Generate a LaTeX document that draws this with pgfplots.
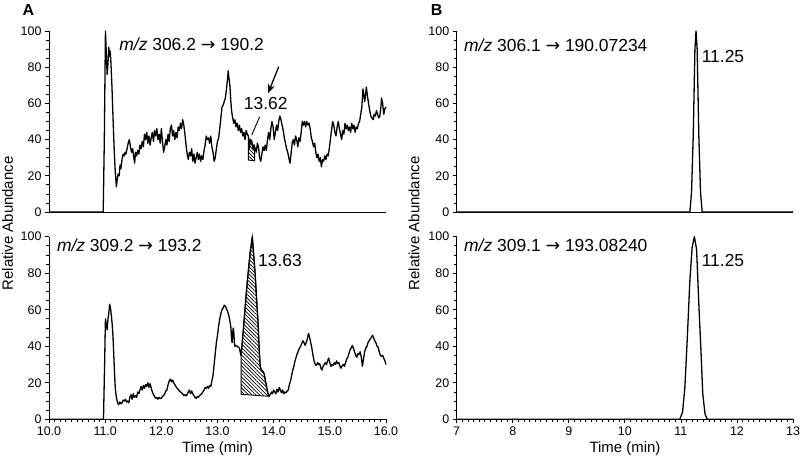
\documentclass[border=0pt]{standalone}
\usepackage{fontspec}
\setmainfont{Liberation Sans}
\newfontfamily\arrowfont{DejaVu Sans}
\usepackage{pgfplots}
\pgfplotsset{compat=1.18}
\usetikzlibrary{patterns.meta,arrows.meta}

\newcommand{\tfont}{\fontsize{12.5}{14}\selectfont}
\pgfplotsset{
  chrom/.style={
    scale only axis,
    ymin=0, ymax=100, ytick={0,20,...,100}, minor y tick num=3,
    axis x line*=bottom, axis y line*=left,
    axis line style={line width=1bp},
    tick style={line width=0.8bp, black},
    tick align=outside,
    major tick length=4bp, minor tick length=2.5bp,
    yticklabel={\tfont\pgfmathprintnumber[assume math mode=true]{\tick}},
    xticklabel={\tfont\pgfmathprintnumber[assume math mode=true]{\tick}},
    clip=false,
  },
  trace/.style={black, line width=1.3bp, line join=round},
  hatch/.style={draw=black, line width=0.9bp,
    pattern={Lines[angle=-45, distance=2.6bp, line width=0.7bp]}},
}
\newcommand{\annfont}{\fontsize{17.5}{20}\selectfont}
\newcommand{\arr}{{\arrowfont →}}

\begin{document}
\begin{tikzpicture}
\useasboundingbox (0,0) rectangle (800bp,-459bp);

% ---------- A, top: m/z 306.2 -> 190.2
\begin{axis}[chrom, at={(49bp,-212bp)}, anchor=south west,
    width=337bp, height=181bp, xmin=10, xmax=16, xtick=\empty]
\addplot[hatch] coordinates {
  (13.55,28.7) (13.55,42) (13.57,36) (13.59,40) (13.61,39) (13.63,35)
  (13.65,37) (13.66,36) (13.66,28.3)} -- cycle;
\addplot[trace] coordinates {
  (10.0,0) (10.965,0) (10.985,40) (11.005,100) (11.02,88) (11.035,76) (11.05,82)
  (11.065,91) (11.075,86) (11.09,89) (11.10,84) (11.12,70) (11.14,52) (11.16,35)
  (11.18,22) (11.20,14) (11.215,18) (11.23,21) (11.25,20) (11.265,26) (11.28,24)
  (11.30,29) (11.32,32) (11.34,31) (11.355,33) (11.37,32) (11.39,35) (11.41,38)
  (11.43,40) (11.45,36) (11.47,33) (11.49,35) (11.51,30) (11.525,27) (11.54,33)
  (11.56,31) (11.58,34) (11.60,32) (11.62,37) (11.64,35) (11.66,39) (11.68,36)
  (11.70,43) (11.72,40) (11.74,44) (11.76,38) (11.78,42) (11.80,37) (11.82,41)
  (11.84,44) (11.86,39) (11.88,45) (11.90,42) (11.92,46) (11.94,40) (11.96,43)
  (11.98,38) (12.00,46) (12.02,39) (12.04,33) (12.06,36) (12.08,40) (12.10,37)
  (12.12,43) (12.14,39) (12.16,46) (12.18,48) (12.20,42) (12.22,45) (12.24,40)
  (12.26,44) (12.28,41) (12.30,47) (12.32,45) (12.34,49) (12.36,46) (12.38,51)
  (12.40,48) (12.42,43) (12.44,37) (12.46,32) (12.48,29) (12.50,33) (12.52,31)
  (12.54,35) (12.56,28) (12.58,32) (12.60,27) (12.62,30) (12.64,33) (12.66,29)
  (12.68,32) (12.70,28) (12.72,31) (12.74,29) (12.76,34) (12.78,37) (12.80,42)
  (12.82,40) (12.84,41) (12.86,38) (12.88,42) (12.90,36) (12.92,33) (12.94,28)
  (12.96,30) (12.98,35) (13.00,39) (13.02,41) (13.04,46) (13.06,52) (13.08,58)
  (13.10,59) (13.12,61) (13.14,63) (13.16,68) (13.18,74) (13.19,78) (13.20,75)
  (13.22,70) (13.24,60) (13.25,56) (13.27,52) (13.29,49) (13.31,51) (13.33,47)
  (13.35,49) (13.37,45) (13.39,48) (13.41,44) (13.43,46) (13.45,42) (13.47,44)
  (13.49,40) (13.51,45) (13.53,43) (13.55,42) (13.57,36) (13.59,40) (13.61,39)
  (13.63,35) (13.65,37) (13.67,35) (13.69,33) (13.71,38) (13.73,36) (13.75,30)
  (13.77,28) (13.79,32) (13.81,36) (13.83,34) (13.85,37) (13.87,34) (13.89,40)
  (13.91,44) (13.93,40) (13.95,46) (13.97,50) (13.99,47) (14.01,40) (14.03,44)
  (14.05,48) (14.07,45) (14.09,50) (14.11,53) (14.13,51) (14.15,48) (14.17,45)
  (14.19,41) (14.21,38) (14.23,35) (14.25,33) (14.27,30) (14.29,27) (14.31,32)
  (14.33,38) (14.35,40) (14.37,37) (14.39,42) (14.41,40) (14.43,36) (14.45,41)
  (14.47,39) (14.49,44) (14.51,50) (14.53,48) (14.55,50) (14.57,47) (14.59,50)
  (14.61,48) (14.63,49) (14.65,46) (14.67,41) (14.69,39) (14.71,36) (14.73,38)
  (14.75,33) (14.77,30) (14.79,32) (14.81,28) (14.83,30) (14.85,25) (14.87,29)
  (14.89,28) (14.91,31) (14.93,29) (14.95,32) (14.97,31) (14.99,35) (15.01,40)
  (15.03,45) (15.05,50) (15.07,48) (15.09,44) (15.11,42) (15.13,47) (15.15,50)
  (15.17,46) (15.19,43) (15.21,40) (15.23,45) (15.25,43) (15.27,49) (15.29,46)
  (15.31,48) (15.33,45) (15.35,47) (15.37,44) (15.39,49) (15.41,46) (15.43,48)
  (15.45,44) (15.47,47) (15.49,46) (15.51,49) (15.53,50) (15.55,54) (15.57,58)
  (15.59,68) (15.61,64) (15.62,61) (15.64,66) (15.65,69) (15.67,64) (15.69,60)
  (15.71,56) (15.73,53) (15.75,52) (15.77,51) (15.79,54) (15.81,53) (15.83,56)
  (15.85,54) (15.87,52) (15.89,53) (15.91,58) (15.92,63) (15.94,60) (15.96,54)
  (15.98,57) (16.00,58)};
\node[anchor=west, inner sep=0, font=\annfont] at (axis cs:11.25,92.5)
  {\textit{m/z} 306.2 \arr\ 190.2};
\node[inner sep=0, font=\annfont] at (axis cs:13.86,60.2) {13.62};
\draw[line width=0.9bp] (axis cs:13.75,52.6) -- (axis cs:13.61,42.5);
\draw[line width=1.3bp, -{Stealth[length=9bp,width=7bp]}]
  (axis cs:14.09,80.3) -- (axis cs:13.90,65.6);
\end{axis}

% ---------- A, bottom: m/z 309.2 -> 193.2
\begin{axis}[chrom, at={(49bp,-419.3bp)}, anchor=south west,
    width=337bp, height=182.6bp, xmin=10, xmax=16,
    xtick={10,11,...,16}, minor x tick num=9,
    xticklabel={\tfont\pgfmathprintnumber[assume math mode=true, fixed, fixed zerofill, precision=1]{\tick}}]
\addplot[hatch] coordinates {
  (13.42,13.7) (13.42,35) (13.46,49) (13.52,72) (13.58,91) (13.62,100)
  (13.645,90) (13.67,80) (13.70,64) (13.72,54) (13.74,40) (13.76,29)
  (13.78,27) (13.80,26.5) (13.83,25) (13.86,20) (13.90,14) (13.92,12.6)} -- cycle;
\addplot[trace] coordinates {
  (10.0,0) (10.97,0) (10.99,30) (11.005,55) (11.02,52) (11.035,49) (11.05,55)
  (11.065,58) (11.08,63) (11.095,61) (11.11,57) (11.125,52) (11.14,45) (11.16,30)
  (11.18,17) (11.20,12) (11.22,9) (11.24,8) (11.26,9.5) (11.28,8.5) (11.30,9)
  (11.32,10.5) (11.34,10) (11.36,11) (11.38,9.5) (11.40,10) (11.42,9) (11.44,12)
  (11.46,13.5) (11.48,11) (11.50,14) (11.52,12) (11.54,13) (11.56,12) (11.58,15)
  (11.60,14) (11.62,16) (11.64,18) (11.66,16) (11.68,18.5) (11.70,17) (11.72,19)
  (11.74,18) (11.76,20) (11.78,17.5) (11.80,19.5) (11.82,17) (11.84,15) (11.86,13.5)
  (11.88,12.5) (11.90,11.5) (11.92,12) (11.94,11) (11.96,12) (11.98,11.5) (12.00,11.5)
  (12.02,12.5) (12.04,13) (12.06,14) (12.08,15.5) (12.10,16) (12.12,19) (12.14,21)
  (12.16,22) (12.18,20.5) (12.20,21.5) (12.22,20) (12.24,19) (12.26,18) (12.28,17)
  (12.30,16.5) (12.32,15.5) (12.34,15) (12.36,14.5) (12.38,14) (12.40,13) (12.42,13.5)
  (12.44,12.8) (12.46,13.5) (12.48,15) (12.50,16) (12.52,14) (12.54,15.5) (12.56,14)
  (12.58,13) (12.60,12) (12.62,11.5) (12.64,12.5) (12.66,12) (12.68,13) (12.70,13.5)
  (12.72,14) (12.74,15) (12.76,16) (12.78,17.5) (12.80,17) (12.82,18) (12.84,17)
  (12.86,18.5) (12.88,18) (12.90,21) (12.92,24) (12.94,30) (12.96,36) (12.98,42)
  (13.00,46) (13.02,51) (13.04,55) (13.06,58) (13.08,60) (13.10,61) (13.12,62.5)
  (13.14,62) (13.16,60.5) (13.18,59) (13.20,57) (13.22,54) (13.24,50) (13.25,44)
  (13.26,42) (13.27,47) (13.28,50) (13.29,48) (13.30,42) (13.31,40) (13.33,40.5)
  (13.35,40) (13.37,39.5) (13.39,39) (13.41,36) (13.42,35) (13.46,49) (13.52,72)
  (13.58,91) (13.62,100) (13.645,90) (13.67,80) (13.70,64) (13.72,54) (13.74,40)
  (13.76,29) (13.78,27) (13.80,26.5) (13.83,25) (13.86,20) (13.90,14) (13.92,13)
  (13.94,13.5) (13.96,15) (13.98,14) (14.00,16) (14.02,15) (14.04,14) (14.06,16.5)
  (14.08,15) (14.10,17.5) (14.12,16) (14.14,14.5) (14.16,16) (14.18,14) (14.20,15)
  (14.22,14.5) (14.24,15.5) (14.26,16) (14.28,19) (14.30,21) (14.32,24) (14.34,27)
  (14.36,29) (14.38,32) (14.40,34) (14.42,36) (14.44,37.5) (14.46,39) (14.48,40)
  (14.50,41.5) (14.52,43) (14.54,42) (14.56,40.5) (14.58,42) (14.60,44) (14.62,47)
  (14.64,45) (14.66,42) (14.68,39) (14.70,35) (14.72,32) (14.74,30) (14.76,29.5)
  (14.78,31) (14.80,30) (14.82,30.5) (14.84,28) (14.86,27) (14.88,29) (14.90,30)
  (14.92,31) (14.94,30) (14.96,32) (14.98,33.5) (15.00,31) (15.02,29) (15.04,30)
  (15.06,29.5) (15.08,31) (15.10,30) (15.12,32) (15.14,30.5) (15.16,31) (15.18,29)
  (15.20,28) (15.22,29.5) (15.24,30) (15.26,29) (15.28,31) (15.30,33) (15.32,34)
  (15.34,36) (15.36,38) (15.38,39) (15.40,40.5) (15.42,39) (15.44,37) (15.46,35)
  (15.48,34) (15.50,36) (15.52,35.5) (15.54,37) (15.56,34) (15.58,29) (15.60,33)
  (15.62,37) (15.64,39) (15.66,40) (15.68,42) (15.70,43) (15.72,44) (15.74,45)
  (15.76,46) (15.78,44.5) (15.80,43) (15.82,42) (15.84,40) (15.86,39.5) (15.88,37)
  (15.90,35) (15.92,34.5) (15.94,35) (15.96,33.5) (15.98,32) (16.00,30)};
\node[anchor=west, inner sep=0, font=\annfont] at (axis cs:10.14,95.5)
  {\textit{m/z} 309.2 \arr\ 193.2};
\node[anchor=west, inner sep=0, font=\annfont] at (axis cs:13.72,87) {13.63};
\end{axis}

% ---------- B, top: m/z 306.1 -> 190.07234
\begin{axis}[chrom, at={(456.7bp,-212bp)}, anchor=south west,
    width=336.3bp, height=181bp, xmin=7, xmax=13, xtick=\empty]
\addplot[trace] coordinates {
  (7,0) (11.16,0) (11.19,11) (11.22,42) (11.25,90) (11.27,100) (11.29,90)
  (11.32,42) (11.35,11) (11.38,0) (13,0)};
\node[anchor=west, inner sep=0, font=\annfont] at (axis cs:7.13,92.3)
  {\textit{m/z} 306.1 \arr\ 190.07234};
\node[anchor=west, inner sep=0, font=\annfont] at (axis cs:11.37,86) {11.25};
\end{axis}

% ---------- B, bottom: m/z 309.1 -> 193.08240
\begin{axis}[chrom, at={(456.7bp,-419.3bp)}, anchor=south west,
    width=336.3bp, height=182.6bp, xmin=7, xmax=13,
    xtick={7,8,...,13}, minor x tick num=9]
\addplot[trace] coordinates {
  (7,0) (10.98,0) (11.03,4) (11.07,17) (11.115,45) (11.16,76) (11.20,94)
  (11.24,100) (11.28,93) (11.32,63) (11.36,36) (11.39,14) (11.43,3) (11.47,0) (13,0)};
\node[anchor=west, inner sep=0, font=\annfont] at (axis cs:7.13,95.5)
  {\textit{m/z} 309.1 \arr\ 193.08240};
\node[anchor=west, inner sep=0, font=\annfont] at (axis cs:11.37,87) {11.25};
\end{axis}

% ---------- labels
\node[font=\bfseries\fontsize{16}{18}\selectfont] at (28.3bp,-10bp) {A};
\node[font=\bfseries\fontsize{16}{18}\selectfont] at (436.7bp,-10bp) {B};
\node[rotate=90, font=\fontsize{15}{18}\selectfont] at (7.5bp,-223.5bp) {Relative Abundance};
\node[rotate=90, font=\fontsize{15}{18}\selectfont] at (414bp,-223.5bp) {Relative Abundance};
\node[font=\fontsize{15}{18}\selectfont] at (217.5bp,-449bp) {Time (min)};
\node[font=\fontsize{15}{18}\selectfont] at (625bp,-449bp) {Time (min)};
\end{tikzpicture}
\end{document}
